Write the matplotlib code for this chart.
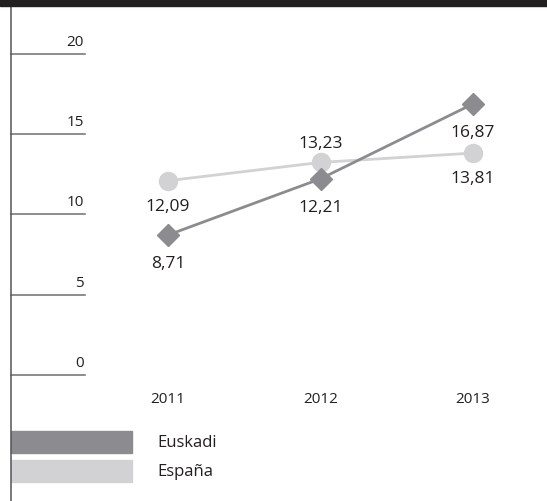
import matplotlib.pyplot as plt
import matplotlib.transforms as mtransforms
from matplotlib.patches import Rectangle

plt.rcParams['font.family'] = ['Open Sans', 'DejaVu Sans']

# data
years = ['2011', '2012', '2013']
euskadi = [8.71, 12.21, 16.87]
espana = [12.09, 13.23, 13.81]
euskadi_lbl = ['8,71', '12,21', '16,87']
espana_lbl = ['12,09', '13,23', '13,81']
yticks = [0, 5, 10, 15, 20]

c_eus = '#8c8c90'
c_esp = '#d2d2d4'
c_txt = '#231f20'

W, H = 547, 502
fig = plt.figure(figsize=(W / 100, H / 100), dpi=100)
ax = fig.add_axes([0, 0, 1, 1])
ax.set_axis_off()

# pixel geometry
step = 152.5
x0 = 168
y0 = 376
ppu = 16.07
ax.set_xlim(-x0 / step, 2 + (W - x0 - 2 * step) / step)
ax.set_ylim(-(H - y0) / ppu, (y0) / ppu)

xs = range(len(years))

# y ticks: short lines with labels
tr = mtransforms.blended_transform_factory(ax.transAxes, ax.transData)
for v in yticks:
    ax.plot([11 / W, 85 / W], [v, v], color='#6e6e6e', lw=1.1, transform=tr)
    ax.text(84 / W, v + 0.3, str(v), transform=tr, ha='right', va='bottom',
            fontsize=11, color=c_txt)

# series
ax.plot(xs, espana, color=c_esp, lw=2, marker='o', markersize=13, zorder=3)
ax.plot(xs, euskadi, color=c_eus, lw=2, marker='D', markersize=11, zorder=4)

esp_off = [-18, 14, -18]
for x, v, s, o in zip(xs, espana, espana_lbl, esp_off):
    ax.annotate(s, (x, v), xytext=(0, o), textcoords='offset points',
                ha='center', va='center', fontsize=12.5, color=c_txt)
for x, v, s in zip(xs, euskadi, euskadi_lbl):
    ax.annotate(s, (x, v), xytext=(0, -20), textcoords='offset points',
                ha='center', va='center', fontsize=12.5, color=c_txt)

for x, s in zip(xs, years):
    ax.text(x, -(400 - y0) / ppu, s, ha='center', va='center',
            fontsize=11, color=c_txt)

# top bar and left line
fig.patches.append(Rectangle((0, 1 - 7 / H), 1, 7 / H, transform=fig.transFigure,
                             color='#231f20', zorder=5))
fig.add_artist(plt.Line2D([11 / W, 11 / W], [0, 1 - 7 / H], color='#555555', lw=1.1,
                          transform=fig.transFigure))

# legend
for i, (name, col) in enumerate([('Euskadi', c_eus), ('España', c_esp)]):
    top = 432 + i * 29
    fig.patches.append(Rectangle((11 / W, 1 - (top + 22) / H), 121 / W, 22 / H,
                                 transform=fig.transFigure, color=col))
    fig.text(157 / W, 1 - (top + 11) / H, name, ha='left', va='center',
             fontsize=12, color=c_txt)

fig.savefig('out.png', dpi=100)
